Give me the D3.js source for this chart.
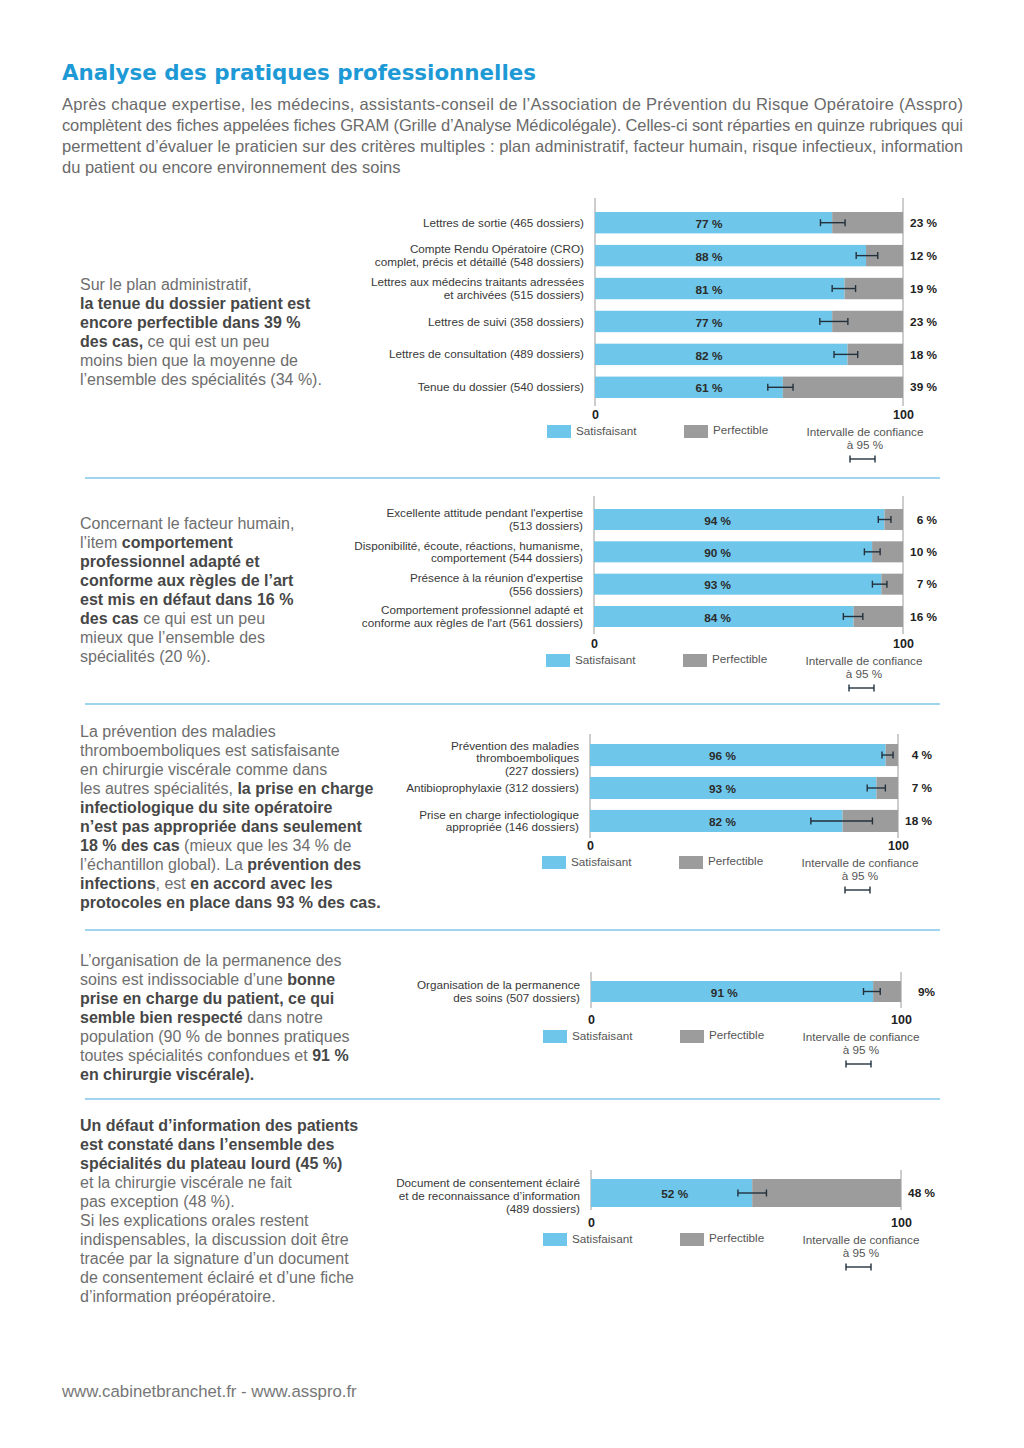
<!DOCTYPE html>
<html><head><meta charset="utf-8">
<script src="https://cdn.jsdelivr.net/npm/d3@7"></script>
<style>
body{margin:0;background:#fff}
svg{display:block}
svg{font-family:"Liberation Sans",Arial,Helvetica,sans-serif}
</style>
</head><body>
<svg id="page" width="1024" height="1448"></svg>
<script>
// ---------- DATA ----------
const titleText = "Analyse des pratiques professionnelles";
const introLines = [
  "Après chaque expertise, les médecins, assistants-conseil de l’Association de Prévention du Risque Opératoire (Asspro)",
  "complètent des fiches appelées fiches GRAM (Grille d’Analyse Médicolégale). Celles-ci sont réparties en quinze rubriques qui",
  "permettent d’évaluer le praticien sur des critères multiples : plan administratif, facteur humain, risque infectieux, information",
  "du patient ou encore environnement des soins"
];
const footerText = "www.cabinetbranchet.fr - www.asspro.fr";

const legendLabels = ["Satisfaisant", "Perfectible", "Intervalle de confiance", "à 95 %"];
const tickValues = [0, 100];

// Chart 1 : plan administratif
const adminCategories = [
  "Lettres de sortie (465 dossiers)",
  "Compte Rendu Opératoire (CRO)\ncomplet, précis et détaillé (548 dossiers)",
  "Lettres aux médecins traitants adressées\net archivées (515 dossiers)",
  "Lettres de suivi (358 dossiers)",
  "Lettres de consultation (489 dossiers)",
  "Tenue du dossier (540 dossiers)"
];
const adminSatisfaisant = [77, 88, 81, 77, 82, 61];
const adminPerfectible = [23, 12, 19, 23, 18, 39];
const adminCiLow = [73.2, 84.8, 77.0, 73.0, 77.6, 56.1];
const adminCiHigh = [81.2, 91.8, 84.6, 82.1, 85.3, 64.3];

// Chart 2 : facteur humain
const humanCategories = [
  "Excellente attitude pendant l'expertise\n(513 dossiers)",
  "Disponibilité, écoute, réactions, humanisme,\ncomportement (544 dossiers)",
  "Présence à la réunion d'expertise\n(556 dossiers)",
  "Comportement professionnel adapté et\nconforme aux règles de l'art (561 dossiers)"
];
const humanSatisfaisant = [94, 90, 93, 84];
const humanPerfectible = [6, 10, 7, 16];
const humanCiLow = [92.0, 87.5, 90.1, 80.7];
const humanCiHigh = [96.1, 92.6, 94.8, 87.0];

// Chart 3 : risque infectieux
const infectCategories = [
  "Prévention des maladies\nthromboemboliques\n(227 dossiers)",
  "Antibioprophylaxie (312 dossiers)",
  "Prise en charge infectiologique\nappropriée (146 dossiers)"
];
const infectSatisfaisant = [96, 93, 82];
const infectPerfectible = [4, 7, 18];
const infectCiLow = [94.8, 90.0, 71.7];
const infectCiHigh = [98.4, 95.9, 91.7];

// Chart 4 : permanence des soins
const permCategories = ["Organisation de la permanence\ndes soins (507 dossiers)"];
const permSatisfaisant = [91];
const permPerfectible = [9];
const permCiLow = [87.9];
const permCiHigh = [93.3];

// Chart 5 : information du patient
const infoCategories = ["Document de consentement éclairé\net de reconnaissance d’information\n(489 dossiers)"];
const infoSatisfaisant = [52];
const infoPerfectible = [48];
const infoCiLow = [47.4];
const infoCiHigh = [56.6];

// Left-hand commentary: each line is a list of [text, bold]
const text1 = [
  [["Sur le plan administratif,", 0]],
  [["la tenue du dossier patient est", 1]],
  [["encore perfectible dans 39 %", 1]],
  [["des cas,", 1], [" ce qui est un peu", 0]],
  [["moins bien que la moyenne de", 0]],
  [["l’ensemble des spécialités (34 %).", 0]]
];
const text2 = [
  [["Concernant le facteur humain,", 0]],
  [["l’item ", 0], ["comportement", 1]],
  [["professionnel adapté et", 1]],
  [["conforme aux règles de l’art", 1]],
  [["est mis en défaut dans 16 %", 1]],
  [["des cas", 1], [" ce qui est un peu", 0]],
  [["mieux que l’ensemble des", 0]],
  [["spécialités (20 %).", 0]]
];
const text3 = [
  [["La prévention des maladies", 0]],
  [["thromboemboliques est satisfaisante", 0]],
  [["en chirurgie viscérale comme dans", 0]],
  [["les autres spécialités, ", 0], ["la prise en charge", 1]],
  [["infectiologique du site opératoire", 1]],
  [["n’est pas appropriée dans seulement", 1]],
  [["18 % des cas", 1], [" (mieux que les 34 % de", 0]],
  [["l’échantillon global). La ", 0], ["prévention des", 1]],
  [["infections", 1], [", est ", 0], ["en accord avec les", 1]],
  [["protocoles en place dans 93 % des cas.", 1]]
];
const text4 = [
  [["L’organisation de la permanence des", 0]],
  [["soins est indissociable d’une ", 0], ["bonne", 1]],
  [["prise en charge du patient, ce qui", 1]],
  [["semble bien respecté", 1], [" dans notre", 0]],
  [["population (90 % de bonnes pratiques", 0]],
  [["toutes spécialités confondues et ", 0], ["91 %", 1]],
  [["en chirurgie viscérale).", 1]]
];
const text5 = [
  [["Un défaut d’information des patients", 1]],
  [["est constaté dans l’ensemble des", 1]],
  [["spécialités du plateau lourd (45 %)", 1]],
  [["et la chirurgie viscérale ne fait", 0]],
  [["pas exception (48 %).", 0]],
  [["Si les explications orales restent", 0]],
  [["indispensables, la discussion doit être", 0]],
  [["tracée par la signature d’un document", 0]],
  [["de consentement éclairé et d’une fiche", 0]],
  [["d’information préopératoire.", 0]]
];

// ---------- STYLE ----------
const BLUE = "#6ec6ea";
const GREY = "#9c9c9c";
const TITLE_BLUE = "#1d9ad6";
const RULE_BLUE = "#45aadd";

const svg = d3.select("#page");
svg.append("rect").attr("width", 1024).attr("height", 1448).attr("fill", "#fff");

// Title
svg.append("text").attr("x", 62).attr("y", 80)
  .style("font-family", "'DejaVu Sans', sans-serif").attr("font-weight", "bold")
  .attr("font-size", 21).attr("fill", TITLE_BLUE)
  .attr("textLength", 474).attr("lengthAdjust", "spacingAndGlyphs")
  .text(titleText);

// Intro paragraph (justified)
introLines.forEach((l, i) => {
  const t = svg.append("text").attr("x", 62).attr("y", 110 + i * 21)
    .attr("font-size", 16.5).attr("fill", "#6a6a6a").text(l);
  if (i < introLines.length - 1) t.attr("textLength", 901).attr("lengthAdjust", "spacing");
});

// Rules between sections
[478, 704, 930, 1099].forEach(y => {
  svg.append("line").attr("x1", 85).attr("x2", 940).attr("y1", y).attr("y2", y)
    .attr("stroke", RULE_BLUE).attr("stroke-width", 1.2);
});

// Commentary blocks
function block(lines, y0) {
  lines.forEach((segs, i) => {
    const t = svg.append("text").attr("x", 80).attr("y", y0 + i * 19).attr("font-size", 16);
    segs.forEach(([s, b]) => {
      t.append("tspan").text(s)
        .attr("font-weight", b ? "bold" : "normal")
        .attr("fill", b ? "#474747" : "#6e6e6e");
    });
  });
}
block(text1, 290);
block(text2, 529);
block(text3, 737);
block(text4, 966);
block(text5, 1131);

// Footer
svg.append("text").attr("x", 62).attr("y", 1397).attr("font-size", 16.8)
  .attr("fill", "#777").text(footerText);

// ---------- CHARTS ----------
function chart(cfg) {
  const g = svg.append("g");
  const x = d3.scaleLinear().domain([0, 100]).range([cfg.x0, cfg.x1]);
  const y = d3.scaleBand().domain(cfg.cats).range([cfg.barTop, cfg.barBottom])
    .paddingInner(cfg.pad).paddingOuter(0);
  const bw = y.bandwidth();
  const rows = cfg.cats.map((c, i) => ({
    c, sat: cfg.sat[i], perf: cfg.perf[i], lo: cfg.lo[i], hi: cfg.hi[i]
  }));

  // axis rules at 0 and 100
  tickValues.forEach(v => {
    g.append("line").attr("x1", x(v)).attr("x2", x(v))
      .attr("y1", cfg.axisTop).attr("y2", cfg.axisBottom)
      .attr("stroke", "#9a9a9a").attr("stroke-width", 1);
  });

  // stacked bars
  g.selectAll(".sat").data(rows).join("rect")
    .attr("x", x(0)).attr("y", d => y(d.c))
    .attr("width", d => x(d.sat) - x(0)).attr("height", bw).attr("fill", BLUE);
  g.selectAll(".perf").data(rows).join("rect")
    .attr("x", d => x(d.sat)).attr("y", d => y(d.c))
    .attr("width", d => x(d.sat + d.perf) - x(d.sat)).attr("height", bw).attr("fill", GREY);

  // confidence intervals
  const ci = g.selectAll(".ci").data(rows).join("g")
    .attr("transform", d => `translate(0,${y(d.c) + bw / 2})`);
  ci.append("line").attr("x1", d => x(d.lo)).attr("x2", d => x(d.hi))
    .attr("stroke", "#23313d").attr("stroke-width", 1.4);
  ci.append("line").attr("x1", d => x(d.lo)).attr("x2", d => x(d.lo)).attr("y1", -3.5).attr("y2", 3.5)
    .attr("stroke", "#23313d").attr("stroke-width", 1.4);
  ci.append("line").attr("x1", d => x(d.hi)).attr("x2", d => x(d.hi)).attr("y1", -3.5).attr("y2", 3.5)
    .attr("stroke", "#23313d").attr("stroke-width", 1.4);

  // value labels inside bars
  g.selectAll(".vl").data(rows).join("text")
    .attr("x", x(cfg.labelAt)).attr("y", d => y(d.c) + bw / 2 + 1).attr("dy", "0.35em")
    .attr("text-anchor", "middle").attr("font-weight", "bold").attr("font-size", 11.8)
    .attr("fill", "#2b2b2b").text(d => d.sat + " %");

  // perfectible labels on the right
  g.selectAll(".pl").data(rows).join("text")
    .attr("x", x(100) + 34).attr("y", d => y(d.c) + bw / 2).attr("dy", "0.35em")
    .attr("text-anchor", "end").attr("font-weight", "bold").attr("font-size", 11.8)
    .attr("fill", "#222").text(d => d.perf + (cfg.sep !== undefined ? cfg.sep : " ") + "%");

  // category labels
  rows.forEach(d => {
    const parts = d.c.split("\n");
    const lh = 12.6;
    const shift = parts.length > 2 ? 3 : 0;
    const cy = y(d.c) + bw / 2 - (parts.length - 1) * lh / 2 + shift;
    const t = g.append("text").attr("text-anchor", "end").attr("font-size", 11.7).attr("fill", "#383838");
    parts.forEach((p, k) => {
      t.append("tspan").attr("x", cfg.x0 - 11).attr("y", cy + k * lh).attr("dy", "0.35em").text(p);
    });
  });

  // tick labels via d3 axis
  const ax = g.append("g").attr("transform", `translate(0,${cfg.tickY})`)
    .call(d3.axisBottom(x).tickValues(tickValues).tickSize(0).tickFormat(d3.format("d")));
  ax.select(".domain").remove();
  ax.attr("font-family", null);
  ax.selectAll("text").attr("y", 0).attr("dy", "0.35em")
    .style("font-family", "'Liberation Sans', Arial, sans-serif")
    .attr("font-size", 12.5).attr("font-weight", "bold").attr("fill", "#222");

  // legend
  const ly = cfg.tickY;
  g.append("rect").attr("x", cfg.x0 - 48).attr("y", ly + 10).attr("width", 24).attr("height", 13).attr("fill", BLUE);
  g.append("text").attr("x", cfg.x0 - 19).attr("y", ly + 16).attr("dy", "0.35em")
    .attr("font-size", 11.7).attr("fill", "#555").text(legendLabels[0]);
  g.append("rect").attr("x", cfg.x0 + 89).attr("y", ly + 10).attr("width", 24).attr("height", 13).attr("fill", GREY);
  g.append("text").attr("x", cfg.x0 + 118).attr("y", ly + 15).attr("dy", "0.35em")
    .attr("font-size", 11.7).attr("fill", "#555").text(legendLabels[1]);
  g.append("text").attr("x", cfg.x0 + 270).attr("y", ly + 17).attr("dy", "0.35em")
    .attr("text-anchor", "middle").attr("font-size", 11.7).attr("fill", "#555").text(legendLabels[2]);
  g.append("text").attr("x", cfg.x0 + 270).attr("y", ly + 30).attr("dy", "0.35em")
    .attr("text-anchor", "middle").attr("font-size", 11.7).attr("fill", "#555").text(legendLabels[3]);
  const lx1 = cfg.x0 + 255, lx2 = cfg.x0 + 280, lyy = ly + 44;
  g.append("line").attr("x1", lx1).attr("x2", lx2).attr("y1", lyy).attr("y2", lyy).attr("stroke", "#23313d").attr("stroke-width", 1.4);
  g.append("line").attr("x1", lx1).attr("x2", lx1).attr("y1", lyy - 3.5).attr("y2", lyy + 3.5).attr("stroke", "#23313d").attr("stroke-width", 1.4);
  g.append("line").attr("x1", lx2).attr("x2", lx2).attr("y1", lyy - 3.5).attr("y2", lyy + 3.5).attr("stroke", "#23313d").attr("stroke-width", 1.4);
}

chart({cats: adminCategories, sat: adminSatisfaisant, perf: adminPerfectible, lo: adminCiLow, hi: adminCiHigh,
  x0: 595, x1: 903, barTop: 212, barBottom: 398, pad: 0.35, axisTop: 198, axisBottom: 406, tickY: 415, labelAt: 37});
chart({cats: humanCategories, sat: humanSatisfaisant, perf: humanPerfectible, lo: humanCiLow, hi: humanCiHigh,
  x0: 594, x1: 903, barTop: 509, barBottom: 627, pad: 0.35, axisTop: 496, axisBottom: 634, tickY: 644, labelAt: 40});
chart({cats: infectCategories, sat: infectSatisfaisant, perf: infectPerfectible, lo: infectCiLow, hi: infectCiHigh,
  x0: 590, x1: 898, barTop: 744, barBottom: 832, pad: 0.33, axisTop: 734, axisBottom: 838, tickY: 846, labelAt: 43});
chart({cats: permCategories, sat: permSatisfaisant, perf: permPerfectible, lo: permCiLow, hi: permCiHigh,
  x0: 591, x1: 901, barTop: 981, barBottom: 1002, pad: 0, axisTop: 972, axisBottom: 1008, tickY: 1020, labelAt: 43, sep: ""});
chart({cats: infoCategories, sat: infoSatisfaisant, perf: infoPerfectible, lo: infoCiLow, hi: infoCiHigh,
  x0: 591, x1: 901, barTop: 1179, barBottom: 1207, pad: 0, axisTop: 1170, axisBottom: 1210, tickY: 1223, labelAt: 27});
</script>
</body></html>
